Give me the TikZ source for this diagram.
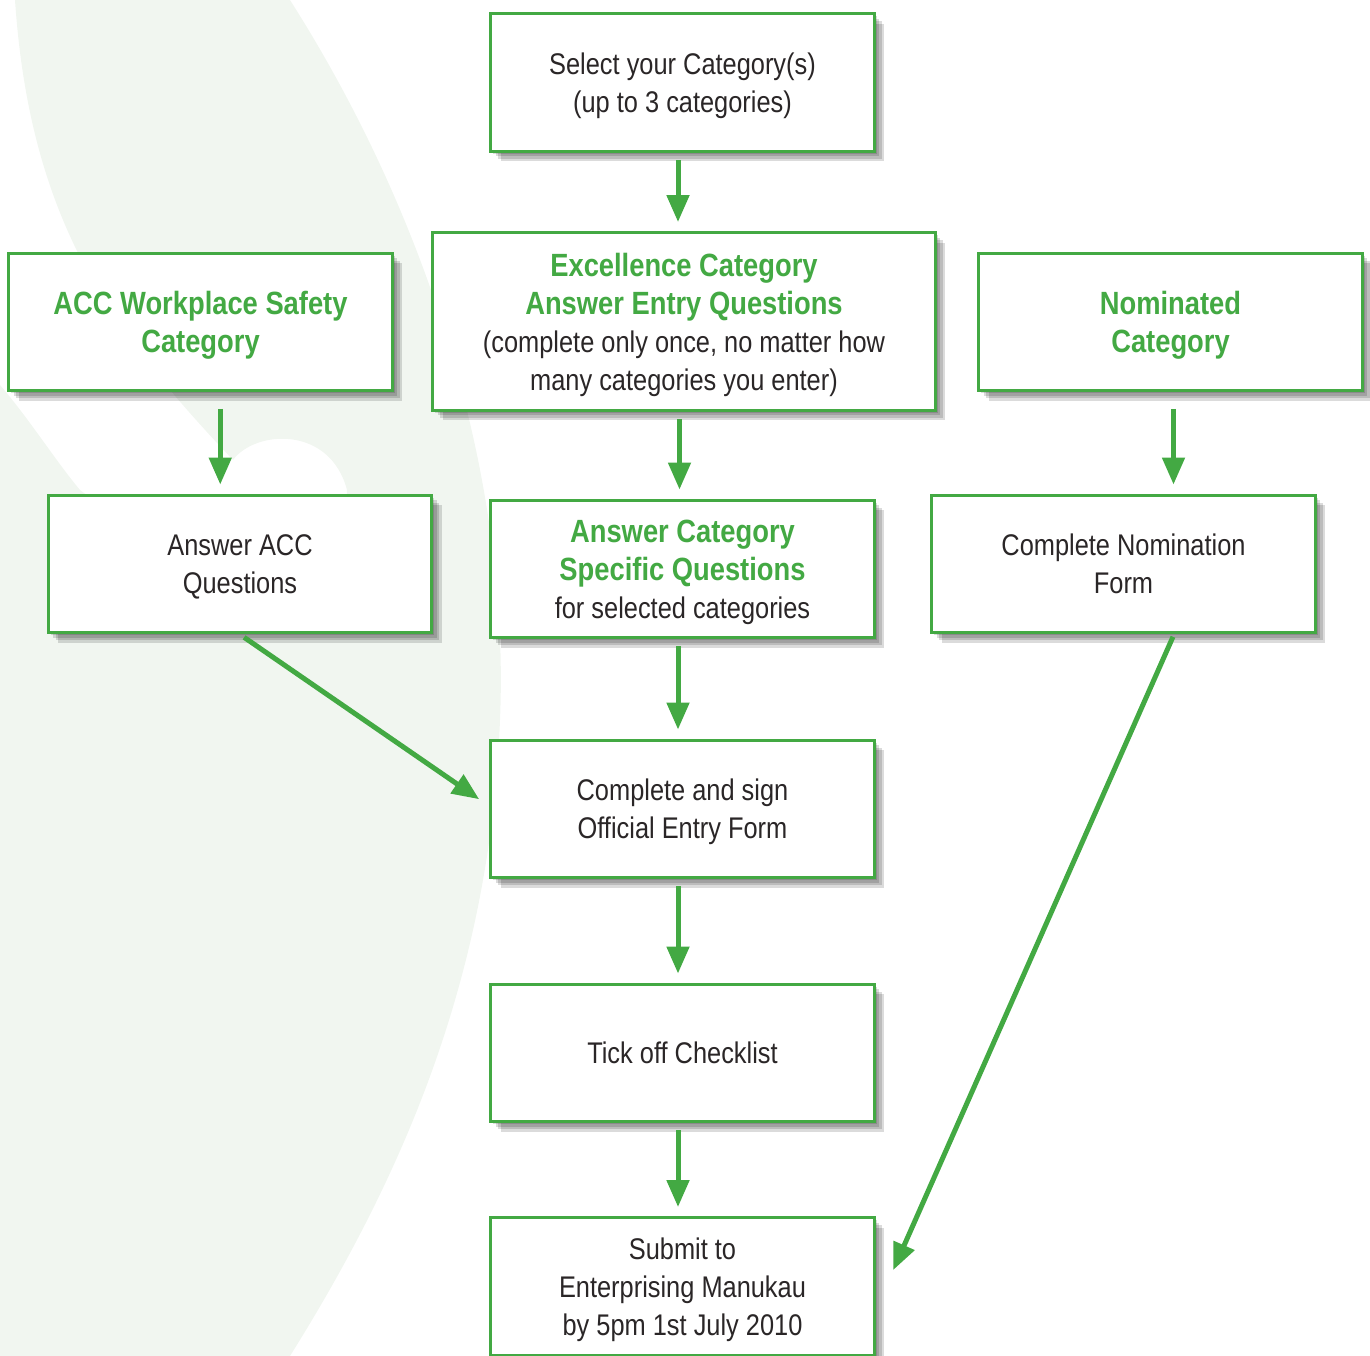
\documentclass[tikz,border=0pt]{standalone}
\usepackage{fontspec}
\setmainfont{Liberation Sans}[FakeStretch=0.85]
\usetikzlibrary{arrows.meta, positioning, calc, shadows}
\definecolor{leaf}{HTML}{43A943}
\definecolor{bgleaf}{HTML}{F1F6F0}
\definecolor{ink}{HTML}{2A2627}
\newcommand{\grn}[1]{{\fontsize{18.3}{21.6}\selectfont\bfseries\color{leaf}#1}}

\begin{document}
\begin{tikzpicture}[x=0.02cm, y=-0.02cm,
    soft/.style={drop shadow={shadow xshift=#1, shadow yshift=-#1, fill=black, opacity=0.14}},
    box/.style={draw=leaf, line width=0.06cm, fill=white, text=ink,
      align=center, inner sep=0pt, minimum width=7.68cm, minimum height=2.76cm,
      text depth=0pt, font=\fontsize{17}{21.6}\selectfont,
      soft=0.2cm, soft=0.15cm, soft=0.1cm, soft=0.05cm},
    widebox/.style={box, minimum width=10.06cm, minimum height=3.56cm},
    arr/.style={leaf, line width=0.1cm, -{Triangle[length=0.54cm, width=0.44cm]}}]
  \useasboundingbox (0,0) rectangle (1370,1356);
  % background leaf
  \fill[bgleaf] (15,0) -- (290,0)
    .. controls (430,220) and (510,480) .. (500,720)
    .. controls (490,980) and (400,1180) .. (290,1356)
    -- (0,1356) -- (0,385)
    .. controls (30,420) and (55,460) .. (80,490) -- (200,580) -- (345,580) -- (347,490)
    .. controls (330,425) and (255,430) .. (233,460)
    .. controls (110,330) and (30,220) .. (15,0) -- cycle;
  % centre column
  \node[box] (sel) at (682.5,82.5) {Select your Category(s)\\(up to 3 categories)};
  \node[widebox] (exc) at (684,321.5) {\grn{Excellence Category}\\\grn{Answer Entry Questions}\\(complete only once, no matter how\\many categories you enter)};
  \node[box] (spec) at (682.5,569) {\grn{Answer Category}\\\grn{Specific Questions}\\for selected categories};
  \node[box] (sign) at (682.5,809) {Complete and sign\\Official Entry Form};
  \node[box] (tick) at (682.5,1053) {Tick off Checklist};
  \node[box] (sub) at (682.5,1286.5) {Submit to\\Enterprising Manukau\\by 5pm 1st July 2010};
  % side columns
  \node[box] (acc) at (200.5,322) {\grn{ACC Workplace Safety}\\\grn{Category}};
  \node[box] (accq) at (240,564) {Answer ACC\\Questions};
  \node[box] (nom) at (1170.5,322) {\grn{Nominated}\\\grn{Category}};
  \node[box] (nomf) at (1123.5,564) {Complete Nomination\\Form};
  % arrows
  \foreach \a/\b in {sel/exc, exc/spec, spec/sign, sign/tick, tick/sub}
    \draw[arr, shorten <=0.14cm, shorten >=0.18cm] ([xshift=-0.09cm]\a.south) -- ([xshift=-0.09cm]\a.south |- \b.north);
  \coordinate (m1) at ($(acc.south)!.5!(accq.north)$);
  \draw[arr, shorten <=0.33cm, shorten >=0.18cm] (acc.south -| m1) -- (accq.north -| m1);
  \draw[arr, shorten <=0.33cm, shorten >=0.18cm] ([xshift=0.06cm]nom.south) -- ([xshift=0.06cm]nomf.north -| nom.south);
  \draw[arr, shorten <=0.1cm, shorten >=0.24cm] (accq.south) -- ([yshift=0.06cm]sign.west);
  \draw[arr, shorten <=0.05cm, shorten >=0.36cm] ([xshift=1.01cm]nomf.south) -- ([xshift=0.2cm]sub.east);
\end{tikzpicture}
\end{document}
